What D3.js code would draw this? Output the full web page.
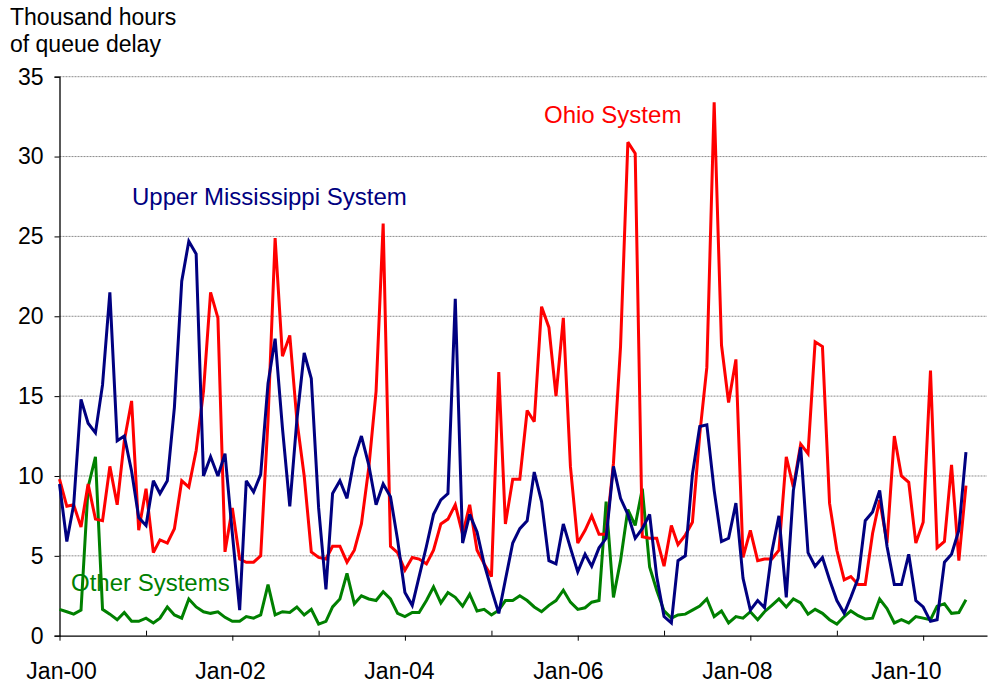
<!DOCTYPE html>
<html lang="en">
<head>
  <meta charset="utf-8">
  <title>Queue delay by system</title>
  <script src="https://d3js.org/d3.v7.min.js"></script>
  <style>
    body { margin: 0; background: #fff; }
    text { font-family: "Liberation Sans", Arial, sans-serif; }
  </style>
</head>
<body>
  <div id="chart"></div>

  <script>
    // monthly points, Jan-00 .. Jul-10
    var months = d3.timeMonth.range(new Date(2000, 0, 1), new Date(2010, 7, 1));

    var upperMiss = [
      9.5, 5.9, 8.2, 14.8, 13.3, 12.7, 15.7, 21.5, 12.2, 12.5, 10.3, 7.4,
      6.9, 9.7, 8.9, 9.7, 14.3, 22.2, 24.7, 23.9, 10.0, 11.2, 10.0, 11.4,
      6.4, 1.6, 9.7, 9.0, 10.1, 15.8, 18.6, 13.0, 8.1, 13.5, 17.7, 16.1,
      8.0, 2.9, 8.9, 9.7, 8.6, 11.1, 12.5, 10.7, 8.2, 9.5, 8.7, 6.0,
      2.7, 1.9, 3.7, 5.6, 7.6, 8.5, 8.9, 21.1, 5.8, 7.6, 6.5, 4.5,
      2.9, 1.4, 3.5, 5.8, 6.7, 7.2, 10.25, 8.4, 4.7, 4.5, 7.0, 5.5,
      4.0, 5.1, 4.35, 5.5, 6.1, 10.6, 8.6, 7.6, 6.1, 6.7, 7.6, 3.7,
      1.2, 0.8, 4.7, 5.0, 10.1, 13.1, 13.2, 9.1, 5.9, 6.1, 8.3, 3.6,
      1.6, 2.2, 1.75, 5.25, 7.5, 2.4, 9.1, 11.8, 5.2, 4.35, 4.9, 3.5,
      2.2, 1.4, 2.4, 3.6, 7.2, 7.75, 9.1, 5.6, 3.2, 3.2, 5.1, 2.2,
      1.8, 0.9, 1.0, 4.6, 5.1, 6.6, 11.5
    ];

    var ohio = [
      9.8, 8.1, 8.2, 6.8, 9.5, 7.3, 7.2, 10.6, 8.2, 12.2, 14.7, 6.6,
      9.2, 5.2, 6.0, 5.8, 6.7, 9.7, 9.3, 11.6, 15.3, 21.5, 19.9, 5.25,
      8.0, 4.8, 4.6, 4.6, 5.0, 13.5, 24.9, 17.5, 18.8, 13.5, 10.0, 5.25,
      4.9, 4.8, 5.6, 5.6, 4.6, 5.35, 7.0, 10.5, 15.3, 25.8, 5.6, 5.2,
      4.1, 4.9, 4.8, 4.5, 5.35, 7.0, 7.3, 8.2, 6.35, 8.2, 5.35, 4.5,
      3.7, 16.5, 7.0, 9.8, 9.8, 14.1, 13.4, 20.6, 19.3, 15.0, 19.9, 10.6,
      5.8, 6.6, 7.5, 6.35, 6.35, 10.8, 18.1, 30.9, 30.2, 6.2, 6.1, 6.1,
      4.35, 6.9, 5.7, 6.3, 7.1, 12.6, 16.8, 33.4, 18.2, 14.6, 17.3, 4.9,
      6.6, 4.7, 4.8, 4.8, 5.35, 11.2, 9.3, 12.0, 11.4, 18.4, 18.1, 8.3,
      5.35, 3.5, 3.7, 3.2, 3.2, 6.4, 8.5, 5.8, 12.5, 10.0, 9.6, 5.8,
      7.1, 16.6, 5.5, 5.9, 10.7, 4.7, 9.4
    ];

    var other = [
      1.65, 1.5, 1.35, 1.6, 9.3, 11.2, 1.65, 1.35, 1.0, 1.45, 0.9, 0.9,
      1.1, 0.8, 1.1, 1.8, 1.3, 1.1, 2.3, 1.8, 1.5, 1.4, 1.5, 1.15,
      0.9, 0.9, 1.2, 1.1, 1.3, 3.2, 1.3, 1.5, 1.45, 1.8, 1.3, 1.65,
      0.73, 0.9, 1.8, 2.3, 3.9, 2.0, 2.5, 2.3, 2.2, 2.75, 2.3, 1.4,
      1.2, 1.45, 1.45, 2.2, 3.05, 2.05, 2.7, 2.4, 1.85, 2.6, 1.55, 1.65,
      1.3, 1.6, 2.2, 2.2, 2.5, 2.2, 1.8, 1.5, 1.9, 2.2, 2.85, 2.1,
      1.65, 1.75, 2.1, 2.2, 8.4, 2.4, 4.7, 7.9, 6.9, 9.2, 4.3, 2.85,
      1.55, 1.1, 1.3, 1.35, 1.6, 1.85, 2.3, 1.2, 1.55, 0.8, 1.2, 1.1,
      1.5, 1.0, 1.5, 1.9, 2.3, 1.8, 2.3, 2.05, 1.35, 1.65, 1.4, 1.0,
      0.73, 1.2, 1.55, 1.25, 1.05, 1.1, 2.3, 1.7, 0.8, 1.0, 0.8, 1.2,
      1.1, 1.0, 1.85, 2.0, 1.4, 1.45, 2.25
    ];

    var yTicks = [0, 5, 10, 15, 20, 25, 30, 35];
    var yearTicks = d3.range(2000, 2011);          // a tick every January
    var labelYears = [2000, 2002, 2004, 2006, 2008, 2010];

    var series = [
      { name: "Upper Mississippi System", values: upperMiss, color: "#000080", lx: 132, ly: 205 },
      { name: "Ohio System", values: ohio, color: "#ff0000", lx: 544, ly: 123 },
      { name: "Other Systems", values: other, color: "#008000", lx: 71, ly: 591 }
    ];

    var width = 992, height = 689;
    var plotLeft = 59.5, plotRight = 987, plotTop = 76.7, plotBottom = 635.7;

    var svg = d3.select("#chart").append("svg")
      .attr("width", width)
      .attr("height", height);

    var x = d3.scaleTime()
      .domain([new Date(2000, 0, 1), new Date(2010, 8, 28)])
      .range([plotLeft, plotRight]);

    var y = d3.scaleLinear()
      .domain([0, 35])
      .range([plotBottom, plotTop]);

    // the labels in the original sit on a slightly tighter spacing than the ticks
    var labelX = d3.scaleLinear().domain([2000, 2010]).range([61, 906]);

    // gridlines
    svg.append("g")
      .selectAll("line")
      .data(yTicks.filter(function (d) { return d > 0; }))
      .enter().append("line")
      .attr("x1", plotLeft).attr("x2", plotRight)
      .attr("y1", function (d) { return y(d); })
      .attr("y2", function (d) { return y(d); })
      .attr("stroke", "#8c8c8c")
      .attr("stroke-width", 1)
      .attr("stroke-dasharray", "2,1");

    // y axis
    var yAxis = d3.axisLeft(y).tickValues(yTicks).tickSize(5).tickPadding(11);
    var gy = svg.append("g")
      .attr("transform", "translate(" + plotLeft + ",0)")
      .call(yAxis);
    gy.select(".domain").attr("stroke", "#000").attr("stroke-width", 1.3);
    gy.selectAll(".tick line").attr("stroke", "#000");
    gy.selectAll("text")
      .attr("font-size", 23)
      .attr("fill", "#000")
      .style("font-family", "'Liberation Sans', Arial, sans-serif");

    // x axis: labelled (even) years tick down, odd years tick up
    var yearDates = yearTicks.map(function (yr) { return new Date(yr, 0, 1); });
    var xAxis = d3.axisBottom(x)
      .tickValues(yearDates)
      .tickSize(0)
      .tickPadding(27)
      .tickFormat(function (d) {
        return labelYears.indexOf(d.getFullYear()) >= 0 ? d3.timeFormat("%b-%y")(d) : "";
      });
    var gx = svg.append("g")
      .attr("transform", "translate(0," + plotBottom + ")")
      .call(xAxis);
    gx.select(".domain").attr("stroke", "#000").attr("stroke-width", 1.3);
    gx.selectAll(".tick line")
      .attr("stroke", "#000")
      .attr("y1", function (d) { return d.getFullYear() % 2 === 0 ? 0 : -5; })
      .attr("y2", function (d) { return d.getFullYear() % 2 === 0 ? 5 : 0; });
    gx.selectAll("text")
      .attr("font-size", 23)
      .attr("fill", "#000")
      .attr("dx", function (d) { return labelX(d.getFullYear()) - x(d); })
      .style("font-family", "'Liberation Sans', Arial, sans-serif");

    // lines
    var line = d3.line()
      .x(function (d, i) { return x(months[i]); })
      .y(function (d) { return y(d); });

    var order = [series[2], series[1], series[0]];
    svg.append("g")
      .selectAll("path")
      .data(order)
      .enter().append("path")
      .attr("d", function (s) { return line(s.values); })
      .attr("fill", "none")
      .attr("stroke", function (s) { return s.color; })
      .attr("stroke-width", 3)
      .attr("stroke-linejoin", "miter")
      .attr("stroke-miterlimit", 3);

    // series labels
    svg.append("g")
      .selectAll("text")
      .data(series)
      .enter().append("text")
      .attr("x", function (s) { return s.lx; })
      .attr("y", function (s) { return s.ly; })
      .attr("font-size", 24)
      .attr("fill", function (s) { return s.color; })
      .text(function (s) { return s.name; });

    // y title
    var title = svg.append("text")
      .attr("x", 10)
      .attr("y", 25)
      .attr("font-size", 23)
      .attr("fill", "#000");
    title.append("tspan").attr("x", 10).text("Thousand hours");
    title.append("tspan").attr("x", 10).attr("dy", 27).text("of queue delay");
  </script>
</body>
</html>
